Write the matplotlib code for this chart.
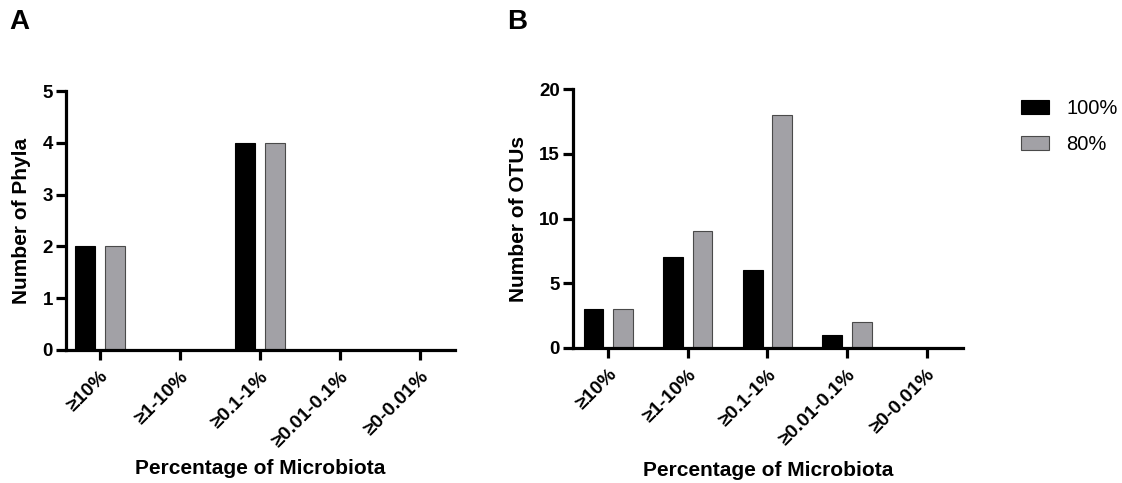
import matplotlib
matplotlib.use("Agg")
import matplotlib.pyplot as plt
import numpy as np

plt.rcParams['font.family'] = ['Liberation Sans', 'DejaVu Sans']

categories = ["≥10%", "≥1-10%", "≥0.1-1%", "≥0.01-0.1%", "≥0-0.01%"]
series_names = ["100%", "80%"]

phyla_100 = [2, 0, 4, 0, 0]
phyla_80 = [2, 0, 4, 0, 0]

otus_100 = [3, 7, 6, 1, 0]
otus_80 = [3, 9, 18, 2, 0]

colors = ["#000000", "#A2A1A6"]
edges = ["#000000", "#4a4a4a"]

W, H = 1122, 483
fig = plt.figure(figsize=(W / 100, H / 100), dpi=100)


def px_axes(left, right, top, bottom):
    return fig.add_axes([left / W, 1 - bottom / H, (right - left) / W, (bottom - top) / H])


def draw_panel(ax, vals_a, vals_b, ymax, ystep, ylabel, xlim, ylabel_x, xlabel_y):
    x = np.arange(len(categories))
    off, width = 0.185, 0.25
    ax.bar(x - off, vals_a, width, color=colors[0], edgecolor=edges[0], linewidth=0.8,
           label=series_names[0], zorder=2)
    ax.bar(x + off, vals_b, width, color=colors[1], edgecolor=edges[1], linewidth=0.8,
           label=series_names[1], zorder=2)
    ax.set_xlim(*xlim)
    ax.set_ylim(0, ymax)
    ax.set_yticks(np.arange(0, ymax + 0.01, ystep))
    ax.set_xticks(x)
    ax.set_xticklabels([])
    # slanted category labels, right end just past each tick
    for xi, cat in zip(x, categories):
        ax.annotate(cat, xy=(xi, 0), xycoords=("data", "axes fraction"),
                    xytext=(6, -24), textcoords="offset pixels",
                    rotation=45, rotation_mode="anchor", ha="right", va="center",
                    fontsize=14, fontweight="bold", annotation_clip=False)
    for lab in ax.get_yticklabels():
        lab.set_fontsize(13.5)
        lab.set_fontweight("bold")
    for s in ["top", "right"]:
        ax.spines[s].set_visible(False)
    for s in ["left", "bottom"]:
        ax.spines[s].set_linewidth(2.3)
        ax.spines[s].set_zorder(3)
    ax.tick_params(axis="y", length=7.5, width=2.3, pad=2)
    ax.tick_params(axis="x", length=7.5, width=2.3, pad=6)
    ax.set_ylabel(ylabel, fontsize=15, fontweight="bold", va="center")
    ax.set_xlabel("Percentage of Microbiota", fontsize=15, fontweight="bold", va="center")
    ax.yaxis.set_label_coords(ylabel_x, 0.5)
    ax.xaxis.set_label_coords(0.5, xlabel_y)


axA = px_axes(66, 455, 91, 350)
draw_panel(axA, phyla_100, phyla_80, 5, 1, "Number of Phyla", (-0.425, 4.4375),
           (22 - 66) / 389, (350 - 469) / 259)

axB = px_axes(573, 963, 89, 348)
draw_panel(axB, otus_100, otus_80, 20, 5, "Number of OTUs", (-0.443, 4.458),
           (518 - 573) / 390, (348 - 470) / 259)

fig.text(9 / W, 1 - 22 / H, "A", fontsize=20, fontweight="bold", va="center", ha="left")
fig.text(507 / W, 1 - 22 / H, "B", fontsize=20, fontweight="bold", va="center", ha="left")

handles, labels = axB.get_legend_handles_labels()
fig.legend(handles, labels, loc="upper left", bbox_to_anchor=(1021 / W, 1 - 99 / H),
           frameon=False, fontsize=14.5, handlelength=1.4, handleheight=0.65,
           handletextpad=0.85, labelspacing=0.85, borderaxespad=0, borderpad=0)

fig.savefig("out.png", dpi=100)
